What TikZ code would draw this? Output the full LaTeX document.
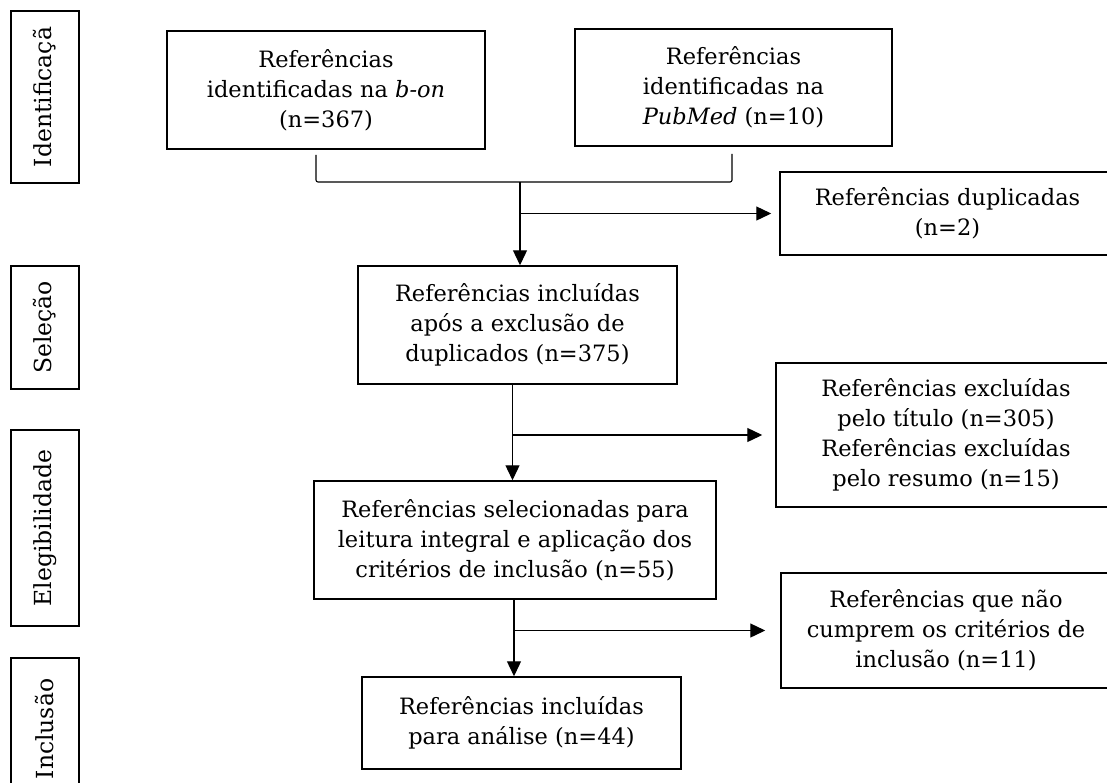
\documentclass[tikz,border=0pt]{standalone}
\usepackage{fontspec}
\setmainfont{DejaVu Serif}
\usetikzlibrary{arrows.meta,positioning,calc}

\begin{document}
\begin{tikzpicture}[
  x=1pt, y=-1pt,
  every node/.style={align=center, font=\fontsize{22.5}{30}\selectfont, inner sep=0pt},
  box/.style={draw, line width=1.5pt, minimum width=#1, minimum height=118pt},
  stage/.style={draw, line width=1.5pt, minimum height=68pt, rotate=90, font=\fontsize{23.5}{30}\selectfont},
  arr/.style={-{Triangle[length=15pt, width=14pt]}, line width=1.3pt},
  link/.style={line width=1.1pt},
]
  \useasboundingbox (0,0) rectangle (1107,782);
  \clip (0,0) rectangle (1107,782);

  % Stages
  \node[stage, minimum width=172pt] (sid) at (45,97) {Identificaçã};
  \node[stage, minimum width=123pt] (ssel) at (45,327.5) {Seleção};
  \node[stage, minimum width=196pt] (seleg) at (45,528) {Elegibilidade};
  \node[stage, minimum width=142pt] (sinc) at (45,729) {Inclusão};

  % Identification
  \node[box=318pt] (b1) at (326,90) {Referências\\identificadas na \textit{b-on}\\(n=367)};
  \node[box=317pt, minimum height=117pt] (b2) at (733.5,87.5) {Referências\\identificadas na\\\textit{PubMed} (n=10)};
  \coordinate (jn) at (520,182);

  % Selection
  \node[box=319pt] (b3) at (517.5,325) {Referências incluídas\\após a exclusão de\\duplicados (n=375)};
  \node[box=335pt, minimum height=83pt] (dup) at (947.5,213.5) {Referências duplicadas\\(n=2)};

  % Eligibility
  \node[box=402pt] (b4) at (515,540) {Referências selecionadas para\\leitura integral e aplicação dos\\critérios de inclusão (n=55)};
  \node[box=340pt, minimum height=144pt] (exc) at (946,435) {Referências excluídas\\pelo título (n=305)\\Referências excluídas\\pelo resumo (n=15)};

  % Inclusion
  \node[box=319pt, minimum height=92pt] (b5) at (521.5,723) {Referências incluídas\\para análise (n=44)};
  \node[box=330pt, minimum height=115pt] (nc) at (946,630.5) {Referências que não\\cumprem os critérios de\\inclusão (n=11)};

  % Connectors
  \draw[link, rounded corners=2pt] ($(b1.south)+(-10,5)$) |- (jn) -| ($(b2.south)+(-1.5,7)$);
  \draw[arr] (jn) -- (jn |- b3.north);
  \draw[arr, shorten >=8pt] (jn |- dup.west) -- (dup.west);

  \draw[arr] ([xshift=-5pt]b3.south) -- ([xshift=-5pt]b3.south |- b4.north);
  \draw[arr, shorten >=13pt] ([xshift=-5pt]b3.south |- exc.west) -- (exc.west);

  \draw[arr] ([xshift=-1pt]b4.south) -- ([xshift=-1pt]b4.south |- b5.north);
  \draw[arr, shorten >=15pt] ([xshift=-1pt]b4.south |- nc.west) -- (nc.west);
\end{tikzpicture}
\end{document}
